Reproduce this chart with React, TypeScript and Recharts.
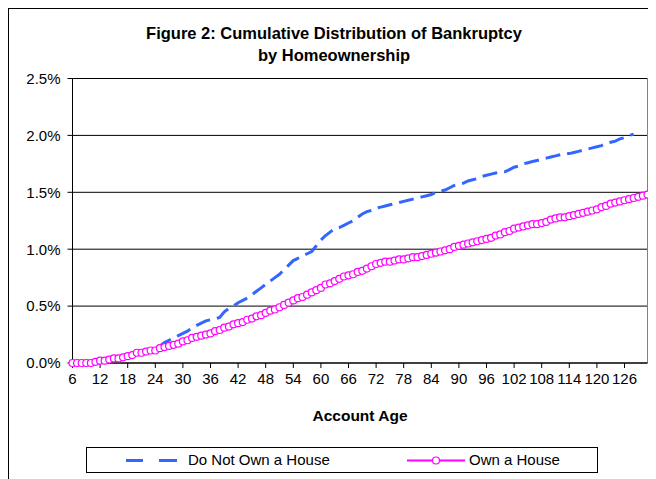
import React from 'react';
import { LineChart, Line, XAxis, YAxis, CartesianGrid, Legend, ReferenceLine } from 'recharts';

// account age in months
const months = [
  6, 7, 8, 9, 10, 11, 12, 13, 14, 15, 16, 17, 18, 19, 20, 21, 22, 23, 24, 25,
  26, 27, 28, 29, 30, 31, 32, 33, 34, 35, 36, 37, 38, 39, 40, 41, 42, 43, 44, 45,
  46, 47, 48, 49, 50, 51, 52, 53, 54, 55, 56, 57, 58, 59, 60, 61, 62, 63, 64, 65,
  66, 67, 68, 69, 70, 71, 72, 73, 74, 75, 76, 77, 78, 79, 80, 81, 82, 83, 84, 85,
  86, 87, 88, 89, 90, 91, 92, 93, 94, 95, 96, 97, 98, 99, 100, 101, 102, 103, 104, 105,
  106, 107, 108, 109, 110, 111, 112, 113, 114, 115, 116, 117, 118, 119, 120, 121, 122, 123, 124, 125,
  126, 127, 128, 129, 130, 131,
];

// cumulative bankruptcy rate, percent
const notOwnHouse = [
  0.0, 0.0, 0.0, 0.0, 0.0, 0.01, 0.02, 0.02, 0.03, 0.04, 0.05, 0.05, 0.06, 0.07, 0.08, 0.09, 0.1, 0.11, 0.12, 0.15,
  0.18, 0.2, 0.22, 0.24, 0.26, 0.28, 0.31, 0.33, 0.35, 0.37, 0.38, 0.39, 0.4, 0.45, 0.48, 0.5, 0.53, 0.55, 0.57, 0.6,
  0.63, 0.66, 0.69, 0.72, 0.75, 0.78, 0.82, 0.86, 0.9, 0.92, 0.94, 0.96, 0.98, 1.03, 1.08, 1.12, 1.15, 1.18, 1.19, 1.21,
  1.23, 1.25, 1.28, 1.31, 1.33, 1.34, 1.36, 1.37, 1.38, 1.39, 1.4, 1.41, 1.42, 1.43, 1.44, 1.45, 1.46, 1.47, 1.48, 1.5,
  1.51, 1.52, 1.54, 1.56, 1.57, 1.58, 1.6, 1.61, 1.62, 1.64, 1.65, 1.66, 1.67, 1.68, 1.68, 1.7, 1.72, 1.73, 1.75, 1.76,
  1.77, 1.78, 1.79, 1.8, 1.81, 1.82, 1.83, 1.84, 1.84, 1.85, 1.86, 1.87, 1.88, 1.89, 1.9, 1.91, 1.93, 1.94, 1.95, 1.97,
  1.98, 2.0, 2.01,
];

const ownHouse = [
  0.0, 0.0, 0.0, 0.0, 0.0, 0.01, 0.02, 0.02, 0.03, 0.04, 0.04, 0.05, 0.06, 0.07, 0.09, 0.09, 0.1, 0.11, 0.11, 0.13,
  0.14, 0.15, 0.16, 0.17, 0.19, 0.2, 0.22, 0.23, 0.24, 0.25, 0.26, 0.28, 0.29, 0.31, 0.32, 0.34, 0.35, 0.36, 0.38, 0.39,
  0.41, 0.42, 0.44, 0.46, 0.47, 0.49, 0.51, 0.53, 0.55, 0.57, 0.58, 0.6, 0.62, 0.64, 0.66, 0.69, 0.7, 0.72, 0.74, 0.76,
  0.77, 0.78, 0.8, 0.81, 0.83, 0.85, 0.87, 0.88, 0.89, 0.89, 0.9, 0.91, 0.91, 0.92, 0.93, 0.93, 0.94, 0.95, 0.96, 0.97,
  0.98, 0.99, 1.0, 1.02, 1.03, 1.04, 1.05, 1.06, 1.07, 1.08, 1.09, 1.1, 1.12, 1.13, 1.15, 1.16, 1.18, 1.19, 1.2, 1.21,
  1.22, 1.22, 1.23, 1.24, 1.26, 1.27, 1.28, 1.28, 1.29, 1.3, 1.31, 1.32, 1.33, 1.34, 1.35, 1.37, 1.38, 1.4, 1.41, 1.42,
  1.43, 1.44, 1.45, 1.46, 1.47, 1.48,
];

const yTicks = [0, 0.5, 1.0, 1.5, 2.0, 2.5];

const FONT = 'Arial, "Liberation Sans", sans-serif';
const BLUE = '#3366FF';
const PINK = '#FF00FF';

const data = months.map((m, i) => ({
  month: String(m),
  notOwn: i < notOwnHouse.length ? notOwnHouse[i] : null,
  own: ownHouse[i],
}));

const LegendBox = () => (
  <div
    style={{
      position: 'relative',
      width: 510,
      height: 24,
      border: '1px solid #000',
      background: '#fff',
      fontFamily: FONT,
      fontSize: 15,
      color: '#000',
    }}
  >
    <svg width={510} height={24} style={{ position: 'absolute', left: 0, top: 0 }}>
      <line x1={39} y1={12.5} x2={56} y2={12.5} stroke={BLUE} strokeWidth={3} />
      <line x1={72} y1={12.5} x2={90} y2={12.5} stroke={BLUE} strokeWidth={3} />
      <line x1={320} y1={12.5} x2={378} y2={12.5} stroke={PINK} strokeWidth={2} />
      <circle cx={349} cy={12.5} r={3.5} stroke={PINK} strokeWidth={1.2} fill="#fff" />
    </svg>
    <span style={{ position: 'absolute', left: 101, top: 3 }}>Do Not Own a House</span>
    <span style={{ position: 'absolute', left: 382, top: 3 }}>Own a House</span>
  </div>
);

export default function App() {
  return (
    <div
      style={{
        position: 'relative',
        width: 647,
        height: 470,
        borderLeft: '1px solid #000',
        borderTop: '1px solid #000',
        fontFamily: FONT,
        background: '#fff',
      }}
    >
      <style>{'body{overflow:hidden}'}</style>
      <div
        style={{
          position: 'absolute',
          left: 0,
          top: 13,
          width: 650,
          textAlign: 'center',
          fontWeight: 'bold',
          fontSize: 16.5,
          lineHeight: '22px',
          color: '#000',
        }}
      >
        Figure 2: Cumulative Distribution of Bankruptcy
        <br />
        by Homeownership
      </div>
      <LineChart
        width={647}
        height={470}
        data={data}
        margin={{ top: 69.5, right: 8.5, left: 13.5, bottom: 56 }}
      >
        <CartesianGrid vertical={false} stroke="#000" />
        <XAxis
          dataKey="month"
          interval={5}
          height={60}
          stroke="#000"
          tickSize={5}
          tickMargin={5}
          tick={{ fill: '#000', fontSize: 15, fontFamily: FONT }}
          label={{ value: 'Account Age', position: 'insideBottom', offset: 2, fill: '#000', fontSize: 15.5, fontWeight: 'bold', fontFamily: FONT }}
        />
        <YAxis
          domain={[0, 2.5]}
          ticks={yTicks}
          width={50}
          stroke="#000"
          tickSize={5}
          tickMargin={7}
          tick={{ fill: '#000', fontSize: 15, fontFamily: FONT }}
          tickFormatter={(v: number) => `${v.toFixed(1)}%`}
        />
        <ReferenceLine x="131" stroke="#808080" />
        <Legend
          layout="horizontal"
          verticalAlign="middle"
          align="center"
          content={() => <LegendBox />}
          wrapperStyle={{ left: 77, top: 438, width: 512, height: 26 }}
        />
        <Line
          type="linear"
          dataKey="notOwn"
          name="Do Not Own a House"
          stroke={BLUE}
          strokeWidth={3}
          strokeDasharray="15 7"
          dot={false}
          isAnimationActive={false}
        />
        <Line
          type="linear"
          dataKey="own"
          name="Own a House"
          stroke={PINK}
          strokeWidth={2}
          dot={{ r: 3.5, stroke: PINK, strokeWidth: 1.2, fill: '#fff' }}
          isAnimationActive={false}
        />
      </LineChart>
    </div>
  );
}
